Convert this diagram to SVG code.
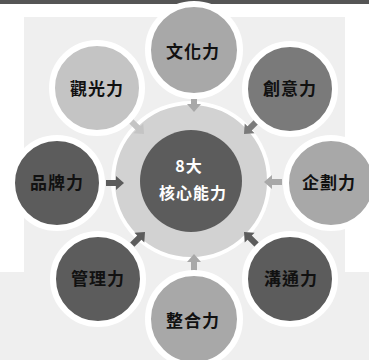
<svg xmlns="http://www.w3.org/2000/svg" width="369" height="360" viewBox="0 0 369 360">
<style>
.node circle{stroke:#fff;stroke-width:6}
.lbl{font-family:"Noto Sans CJK TC","Noto Sans CJK SC",sans-serif;font-weight:bold;font-size:17px;text-anchor:middle;dominant-baseline:central;fill:#111;letter-spacing:1px}
.wl{fill:#fff;font-size:16px}
.dark{fill:#5c5c5c}
.mid{fill:#8e8e8e}
.mid2{fill:#7a7a7a}
.light{fill:#a8a8a8}
.pale{fill:#c4c4c4}
</style>
<defs>
<path id="arr" d="M0,0 L-8,-7 L-8,-3 L-18,-3 L-18,3 L-8,3 L-8,7 Z"/>
</defs>
<rect width="369" height="360" fill="#fff"/>
<rect x="0" y="0" width="369" height="4" fill="#555"/>
<rect x="24" y="17" width="321" height="255" fill="#efefef"/>
<rect x="0" y="272" width="369" height="88" fill="#efefef"/>
<circle cx="191" cy="181" r="78" fill="#d2d2d2" stroke="#fff" stroke-width="4"/>
<g id="connectors">
<use href="#arr" class="light" transform="translate(194,112) rotate(90)"/>
<use href="#arr" class="mid2" transform="translate(244,134) rotate(135)"/>
<use href="#arr" class="light" transform="translate(264,182) rotate(180)"/>
<use href="#arr" class="dark" transform="translate(244,232) rotate(225)"/>
<use href="#arr" class="light" transform="translate(194,254) rotate(270)"/>
<use href="#arr" class="dark" transform="translate(145,232) rotate(315)"/>
<use href="#arr" class="dark" transform="translate(124,183) rotate(0)"/>
<use href="#arr" class="pale" transform="translate(144,134) rotate(45)"/>
</g>
<g id="center"><circle cx="191" cy="181" r="51" class="dark" stroke="none"/>
<text class="lbl wl" x="189" y="165">8大</text>
<text class="lbl wl" x="193" y="192">核心能力</text></g>
<g id="n-wenhua" class="node"><circle cx="194" cy="50" r="46" class="light"/><text class="lbl" x="193" y="50">文化力</text></g>
<g id="n-guanguang" class="node"><circle cx="97" cy="88" r="45" class="pale"/><text class="lbl" x="97" y="87">觀光力</text></g>
<g id="n-chuangyi" class="node"><circle cx="290" cy="89" r="45" class="mid2"/><text class="lbl" x="290" y="87">創意力</text></g>
<g id="n-pinpai" class="node"><circle cx="57" cy="183" r="45" class="dark"/><text class="lbl" x="57" y="181">品牌力</text></g>
<g id="n-qihua" class="node"><circle cx="331" cy="183" r="45" class="light"/><text class="lbl" x="329" y="181">企劃力</text></g>
<g id="n-guanli" class="node"><circle cx="98" cy="279" r="45" class="dark"/><text class="lbl" x="98" y="277">管理力</text></g>
<g id="n-goutong" class="node"><circle cx="290" cy="279" r="45" class="dark"/><text class="lbl" x="291" y="277">溝通力</text></g>
<g id="n-zhenghe" class="node"><circle cx="194" cy="319" r="46" class="light"/><text class="lbl" x="193" y="319">整合力</text></g>
</svg>
